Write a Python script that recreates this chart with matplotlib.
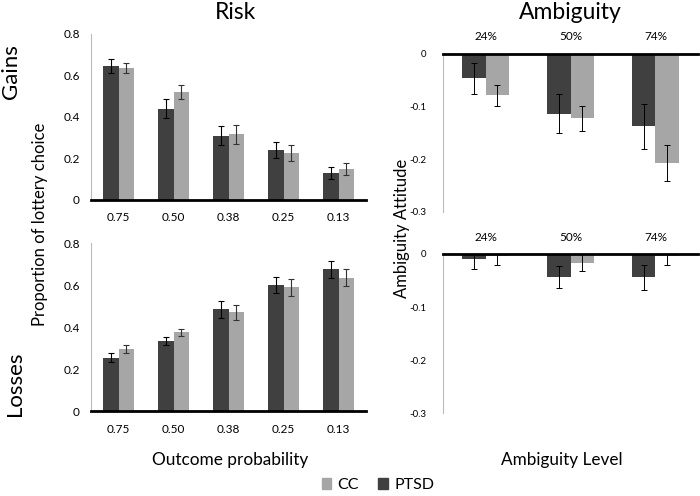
import numpy as np
import matplotlib.pyplot as plt

plt.rcParams['font.family'] = ['Lato', 'DejaVu Sans']

# risk task: outcome probabilities
prob_labels = ['0.75', '0.50', '0.38', '0.25', '0.13']
gains_ptsd = [0.645, 0.44, 0.31, 0.24, 0.13]
gains_ptsd_err = [0.035, 0.045, 0.045, 0.04, 0.03]
gains_cc = [0.635, 0.52, 0.315, 0.225, 0.15]
gains_cc_err = [0.025, 0.035, 0.045, 0.04, 0.03]
losses_ptsd = [0.255, 0.335, 0.485, 0.60, 0.675]
losses_ptsd_err = [0.02, 0.02, 0.04, 0.04, 0.04]
losses_cc = [0.295, 0.375, 0.47, 0.59, 0.635]
losses_cc_err = [0.02, 0.015, 0.035, 0.04, 0.04]

# ambiguity task
amb_labels = ['24%', '50%', '74%']
amb_gains_ptsd = [-0.047, -0.114, -0.138]
amb_gains_ptsd_err = [0.03, 0.037, 0.042]
amb_gains_cc = [-0.079, -0.123, -0.208]
amb_gains_cc_err = [0.02, 0.023, 0.034]
amb_losses_ptsd = [-0.009, -0.043, -0.044]
amb_losses_ptsd_err = [0.02, 0.021, 0.023]
amb_losses_cc = [-0.003, -0.017, -0.004]
amb_losses_cc_err = [0.018, 0.016, 0.017]

dark = '#404040'
light = '#a6a6a6'
w = 0.28

fig = plt.figure(figsize=(7, 4.96), dpi=100)

def risk_panel(rect, ptsd, ptsd_err, cc, cc_err):
    ax = fig.add_axes(rect)
    x = np.arange(len(prob_labels))
    ax.bar(x - w / 2, ptsd, w, color=dark, yerr=ptsd_err,
           error_kw=dict(ecolor='black', elinewidth=0.8, capsize=2, capthick=0.8))
    ax.bar(x + w / 2, cc, w, color=light, yerr=cc_err,
           error_kw=dict(ecolor='#333333', elinewidth=0.8, capsize=2, capthick=0.8))
    ax.set_xlim(-0.5, len(prob_labels) - 0.5)
    ax.set_ylim(0, 0.8)
    ax.set_yticks([0, 0.2, 0.4, 0.6, 0.8])
    ax.set_yticklabels(['0', '0.2', '0.4', '0.6', '0.8'])
    ax.set_xticks(x)
    ax.set_xticklabels(prob_labels)
    ax.tick_params(length=0, labelsize=8.5, pad=9)
    ax.tick_params(axis='y', pad=8)
    for s in ['top', 'right']:
        ax.spines[s].set_visible(False)
    ax.spines['left'].set_color('#bbbbbb')
    ax.spines['left'].set_linewidth(0.8)
    ax.spines['bottom'].set_linewidth(2)
    return ax

def amb_panel(rect, ptsd, ptsd_err, cc, cc_err):
    ax = fig.add_axes(rect)
    x = np.arange(len(amb_labels))
    ax.bar(x - w / 2, ptsd, w, color=dark, yerr=ptsd_err,
           error_kw=dict(ecolor='black', elinewidth=0.7, capsize=2, capthick=0.7))
    ax.bar(x + w / 2, cc, w, color=light, yerr=cc_err,
           error_kw=dict(ecolor='black', elinewidth=0.7, capsize=2, capthick=0.7))
    ax.set_xlim(-0.5, len(amb_labels) - 0.5)
    ax.set_ylim(-0.3, 0)
    ax.set_yticks([-0.3, -0.2, -0.1, 0])
    ax.set_yticklabels(['-0.3', '-0.2', '-0.1', '0'])
    ax.set_xticks(x)
    ax.set_xticklabels(amb_labels)
    ax.xaxis.tick_top()
    ax.tick_params(length=0, labelsize=7)
    ax.tick_params(axis='x', labelsize=8.5, pad=8)
    ax.tick_params(axis='y', pad=12)
    for s in ['bottom', 'right']:
        ax.spines[s].set_visible(False)
    ax.spines['left'].set_color('#bbbbbb')
    ax.spines['left'].set_linewidth(0.8)
    ax.spines['top'].set_linewidth(2)
    ax.spines['top'].set_zorder(5)
    return ax

ax1 = risk_panel([0.13, 0.597, 0.393, 0.335], gains_ptsd, gains_ptsd_err, gains_cc, gains_cc_err)
ax2 = risk_panel([0.13, 0.171, 0.393, 0.339], losses_ptsd, losses_ptsd_err, losses_cc, losses_cc_err)
ax3 = amb_panel([0.633, 0.573, 0.364, 0.319], amb_gains_ptsd, amb_gains_ptsd_err, amb_gains_cc, amb_gains_cc_err)
ax4 = amb_panel([0.633, 0.167, 0.364, 0.321], amb_losses_ptsd, amb_losses_ptsd_err, amb_losses_cc, amb_losses_cc_err)

fig.text(0.336, 0.975, 'Risk', ha='center', va='center', fontsize=16.5)
fig.text(0.815, 0.975, 'Ambiguity', ha='center', va='center', fontsize=16.5)
fig.text(0.016, 0.855, 'Gains', ha='center', va='center', rotation=90, fontsize=16)
fig.text(0.021, 0.226, 'Losses', ha='center', va='center', rotation=90, fontsize=16)
fig.text(0.057, 0.548, 'Proportion of lottery choice', ha='center', va='center', rotation=90, fontsize=12)
fig.text(0.574, 0.54, 'Ambiguity Attitude', ha='center', va='center', rotation=90, fontsize=12)
fig.text(0.329, 0.073, 'Outcome probability', ha='center', va='center', fontsize=12.4)
fig.text(0.802, 0.073, 'Ambiguity Level', ha='center', va='center', fontsize=12.3)

handles = [plt.Rectangle((0, 0), 1, 1, color=light), plt.Rectangle((0, 0), 1, 1, color=dark)]
fig.legend(handles, ['CC', 'PTSD'], loc='center', bbox_to_anchor=(0.54, 0.022), ncol=2,
           frameon=False, fontsize=11.5, handlelength=0.6, handleheight=0.6,
           handletextpad=0.4, columnspacing=1.2, borderpad=0)

fig.savefig('out.png', dpi=100)
